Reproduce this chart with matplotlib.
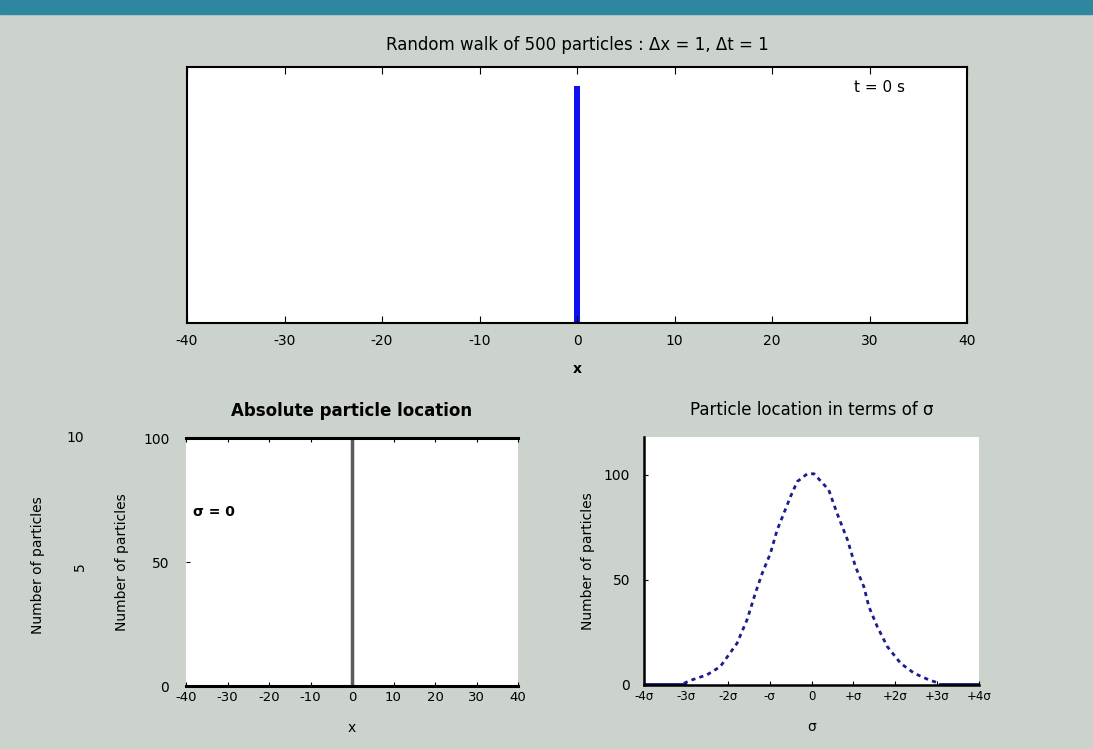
import matplotlib
matplotlib.use('Agg')
import matplotlib.pyplot as plt

# data
walk_pos = [0]          # all particles at the start point
walk_count = [500]

abs_ticks = [-40, -30, -20, -10, 0, 10, 20, 30, 40]
sig_ticks = [-4, -3, -2, -1, 0, 1, 2, 3, 4]
sig_labels = ['-4σ', '-3σ', '-2σ', '-σ', '0', '+σ', '+2σ', '+3σ', '+4σ']

# dashed curve in the right panel (x in units of sigma)
curve_x = [-3.05, -2.86, -2.5, -2.18, -1.78, -1.54, -1.34, -1.18, -0.98, -0.82,
           -0.66, -0.5, -0.34, -0.1, 0.06, 0.41, 0.61, 0.86, 1.05, 1.25,
           1.37, 1.57, 1.81, 2.13, 2.45, 2.81, 3.05]
curve_y = [0.8, 2.4, 4.8, 8.7, 19.8, 31, 43.7, 53, 62.7, 73.8,
           81.7, 89.7, 96.8, 100.5, 100.5, 92.9, 81.7, 69, 56.3, 46.8,
           37.3, 27.8, 18.3, 10.3, 5.6, 2.4, 0.8]
tail_left_x = [-4, -3.07]
tail_right_x = [3.09, 4]
tail_y = [0, 0]

bg = '#ccd3cc'
fig = plt.figure(figsize=(10.93, 7.49), dpi=100, facecolor=bg)
W, H = 1093.0, 749.0

def box(l, r, t, b):
    return [l / W, 1 - b / H, (r - l) / W, (b - t) / H]

# teal band on top
fig.patches.append(plt.Rectangle((0, 1 - 14 / H), 1, 14 / H, transform=fig.transFigure,
                                 color='#2f86a0', zorder=0))

# top panel
ax = fig.add_axes(box(187, 967, 67, 323))
ax.bar(walk_pos, walk_count, width=0.6, color='#1010f0')
ax.set_xlim(-40, 40)
ax.set_ylim(0, 540)
ax.set_yticks([])
ax.set_xticks(abs_ticks)
ax.set_xticklabels([str(v) for v in abs_ticks], fontsize=10)
ax.tick_params(axis='x', direction='in', top=True, length=5, pad=8)
for s in ax.spines.values():
    s.set_linewidth(1.5)
ax.set_title('Random walk of 500 particles : Δx = 1, Δt = 1', fontsize=12, pad=12)
ax.set_xlabel('x', fontsize=10, fontweight='bold', labelpad=10)
ax.text(0.888, 0.92, 't = 0 s', transform=ax.transAxes, fontsize=11, ha='center', va='center')

# bottom left panel
ax1 = fig.add_axes(box(186, 518, 438, 686))
ax1.axvline(0, color='#5a5a5a', lw=2.5)
ax1.set_xlim(-40, 40)
ax1.set_ylim(0, 100)
ax1.set_xticks(abs_ticks)
ax1.set_xticklabels([str(v) for v in abs_ticks], fontsize=9.5)
ax1.set_yticks([0, 50, 100])
ax1.set_yticklabels(['0', '50', '100'], fontsize=10)
ax1.tick_params(direction='in', top=True, length=3)
ax1.tick_params(axis='y', pad=12)
ax1.spines['left'].set_visible(False)
ax1.spines['right'].set_visible(False)
ax1.spines['top'].set_linewidth(2.2)
ax1.spines['bottom'].set_linewidth(2.2)
ax1.set_title('Absolute particle location', fontsize=12, fontweight='bold', pad=16)
ax1.set_xlabel('x', fontsize=10, labelpad=12)
ax1.set_ylabel('Number of particles', fontsize=10, labelpad=10)
ax1.text(0.02, 0.70, 'σ = 0', transform=ax1.transAxes, fontsize=10, fontweight='bold',
         va='center')

# leftover labels from the previous frame
fig.text(75 / W, 1 - 438 / H, '10', fontsize=10, ha='center', va='center')
fig.text(80 / W, 1 - 567 / H, '5', fontsize=10, ha='center', va='center', rotation=90)
fig.text(38 / W, 1 - 565 / H, 'Number of particles', fontsize=10, ha='center', va='center',
         rotation=90)

# bottom right panel
ax2 = fig.add_axes(box(644, 979, 437, 685))
ax2.plot(curve_x, curve_y, color='#1c1c8c', lw=2, ls=(0, (1.5, 1.5)))
ax2.plot(tail_left_x, tail_y, color='#1c1c8c', lw=3.5)
ax2.plot(tail_right_x, tail_y, color='#1c1c8c', lw=3.5)
ax2.set_xlim(-4, 4)
ax2.set_ylim(0, 118)
ax2.set_xticks(sig_ticks)
ax2.set_xticklabels(sig_labels, fontsize=8.5)
ax2.set_yticks([0, 50, 100])
ax2.set_yticklabels(['0', '50', '100'], fontsize=10)
ax2.tick_params(direction='in', length=3)
ax2.tick_params(axis='y', pad=10)
ax2.spines['top'].set_visible(False)
ax2.spines['right'].set_visible(False)
ax2.spines['left'].set_linewidth(1.8)
ax2.spines['bottom'].set_linewidth(1.8)
ax2.set_title('Particle location in terms of σ', fontsize=12, pad=16)
ax2.set_xlabel('σ', fontsize=10, labelpad=12)
ax2.set_ylabel('Number of particles', fontsize=10, labelpad=6)

fig.savefig('out.png', dpi=100, facecolor=bg)
